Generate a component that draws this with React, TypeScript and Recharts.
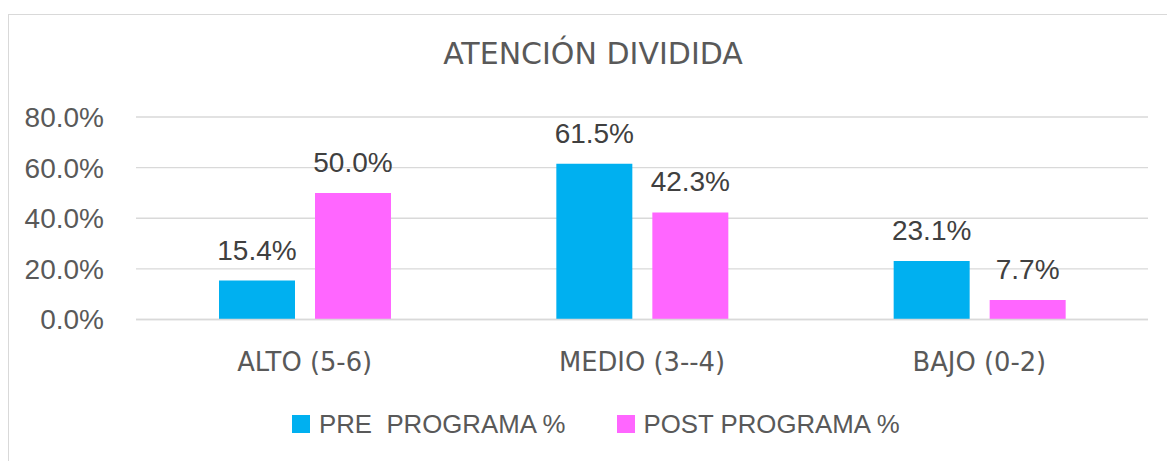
import React from "react";
import { BarChart, Bar, XAxis, YAxis, CartesianGrid, LabelList, Legend } from "recharts";

const categories = ["ALTO (5-6)", "MEDIO (3--4)", "BAJO (0-2)"];
const prePrograma = [15.4, 61.5, 23.1];
const postPrograma = [50.0, 42.3, 7.7];
const seriesNames = ["PRE  PROGRAMA %", "POST PROGRAMA %"];
const seriesColors = ["#00B0F0", "#FF66FF"];
const yTicks = [0, 20, 40, 60, 80];
const title = "ATENCIÓN DIVIDIDA";

const data = categories.map((c, i) => ({ category: c, pre: prePrograma[i], post: postPrograma[i] }));

const NUM_FONT = '"Liberation Sans", Arial, sans-serif';
const WIDE_FONT = '"DejaVu Sans", sans-serif';

const fmt = (v: number) => `${Number(v).toFixed(1)}%`;

const LegendContent = (props: any) => {
  const payload = [...(props.payload || [])].sort(
    (a: any, b: any) => seriesNames.indexOf(a.value) - seriesNames.indexOf(b.value)
  );
  return (
    <div style={{ display: "flex", alignItems: "center", justifyContent: "flex-start", height: 26 }}>
      {payload.map((p: any, i: number) => (
        <div key={i} style={{ display: "flex", alignItems: "center", marginRight: i === 0 ? 51 : 0, height: 26 }}>
          <div style={{ width: 18, height: 18, background: p.color, marginRight: 9 }} />
          <span
            style={{
              fontFamily: NUM_FONT,
              fontSize: 25.8,
              color: "#595959",
              whiteSpace: "pre",
              lineHeight: "26px",
            }}
          >
            {p.value}
          </span>
        </div>
      ))}
    </div>
  );
};

export default function App() {
  return (
    <div
      style={{
        position: "fixed",
        left: 8,
        top: 14,
        width: 1200,
        height: 500,
        border: "1px solid #D9D9D9",
        boxSizing: "border-box",
        background: "#fff",
      }}
    >
      <div
        style={{
          position: "absolute",
          left: 0,
          width: 1168,
          top: 19,
          textAlign: "center",
          fontFamily: WIDE_FONT,
          fontSize: 30,
          color: "#595959",
          lineHeight: "40px",
          whiteSpace: "nowrap",
        }}
      >
        {title}
      </div>
      <BarChart
        width={1150}
        height={440}
        data={data}
        margin={{ top: 102, right: 11, left: 0, bottom: 75.5 }}
        barGap={20}
        barSize={76}
      >
        <CartesianGrid vertical={false} stroke="#D9D9D9" strokeWidth={1.3} />
        <XAxis
          dataKey="category"
          height={60}
          tickLine={false}
          axisLine={{ stroke: "#D9D9D9", strokeWidth: 1.3 }}
          tickSize={0}
          tickMargin={33}
          tick={{ fill: "#595959", fontSize: 25.8, fontFamily: WIDE_FONT }}
          interval={0}
        />
        <YAxis
          width={127}
          domain={[0, 80]}
          ticks={yTicks}
          tickFormatter={fmt}
          axisLine={false}
          tickLine={false}
          tickSize={0}
          tickMargin={32}
          tick={{ fill: "#595959", fontSize: 28, fontFamily: NUM_FONT }}
        />
        <Legend
          layout="horizontal"
          verticalAlign="middle"
          align="center"
          content={<LegendContent />}
          wrapperStyle={{ top: 396, left: 283, width: 700, height: 26 }}
        />
        <Bar dataKey="pre" name={seriesNames[0]} fill={seriesColors[0]} isAnimationActive={false}>
          <LabelList dataKey="pre" position="top" offset={21} formatter={fmt} fill="#404040" fontSize={28} fontFamily={NUM_FONT} />
        </Bar>
        <Bar dataKey="post" name={seriesNames[1]} fill={seriesColors[1]} isAnimationActive={false}>
          <LabelList dataKey="post" position="top" offset={21} formatter={fmt} fill="#404040" fontSize={28} fontFamily={NUM_FONT} />
        </Bar>
      </BarChart>
    </div>
  );
}
